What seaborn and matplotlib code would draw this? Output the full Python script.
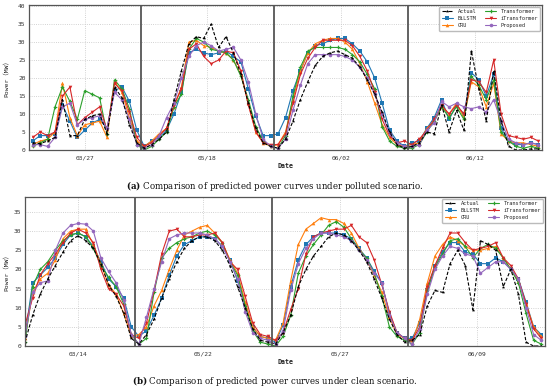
import numpy as np
import pandas as pd
import matplotlib
matplotlib.use('Agg')
import matplotlib.pyplot as plt
from matplotlib.lines import Line2D
import seaborn as sns

models = ['Actual', 'BiLSTM', 'GRU', 'Transformer', 'iTransformer', 'Proposed']
days_a = ['03/27', '05/18', '06/02', '06/12']
days_b = ['03/14', '05/22', '05/27', '06/09']

# (a) polluted scenario, 4 days back to back (15 + 18 + 18 + 18 samples)
a_actual = [2.0, 1.8, 2.5, 3.5, 14.0, 4.0, 4.0, 8.5, 9.5, 10.0, 4.5, 17.5, 14.5, 7.0, 2.0,
            0.5, 1.5, 3.0, 5.0, 14.0, 22.0, 29.5, 31.5, 31.0, 35.0, 28.5, 31.5, 27.0, 21.0, 13.0, 6.0, 2.0, 1.0,
            0.5, 3.0, 8.0, 14.0, 19.0, 23.5, 26.0, 27.0, 27.5, 26.5, 25.5, 23.0, 19.5, 15.5, 10.5, 5.0, 1.5, 0.5,
            1.0, 2.0, 5.0, 4.5, 12.5, 5.0, 11.0, 5.5, 27.5, 17.0, 8.0, 22.0, 8.0, 1.0, 0.0, 0.0, 0.3, 0.3]
a_bilstm = [2.5, 4.0, 4.0, 4.5, 12.5, 8.0, 3.5, 5.5, 7.5, 8.5, 6.0, 16.5, 17.5, 13.5, 5.5,
            1.0, 2.5, 3.5, 5.5, 10.0, 16.0, 27.0, 28.0, 27.0, 26.5, 27.0, 27.5, 26.0, 24.5, 17.0, 9.5, 4.0, 4.0,
            4.5, 9.0, 16.5, 22.0, 27.0, 29.0, 29.5, 30.5, 31.0, 31.0, 29.5, 27.5, 24.5, 20.0, 13.0, 5.5, 2.5, 1.0,
            2.0, 2.5, 6.0, 9.0, 14.0, 8.5, 12.5, 10.0, 21.5, 19.5, 15.0, 21.0, 6.0, 2.5, 1.5, 1.5, 2.0, 1.5]
a_gru = [1.5, 2.5, 3.0, 5.0, 18.5, 9.0, 4.0, 7.0, 7.5, 8.0, 3.5, 19.0, 16.0, 9.0, 2.5,
         1.0, 2.5, 4.5, 6.0, 12.0, 17.5, 30.0, 30.5, 29.0, 28.5, 27.5, 27.0, 25.0, 21.0, 13.0, 5.0, 2.0, 1.0,
         1.5, 5.0, 14.0, 22.0, 27.0, 29.5, 30.5, 31.0, 31.0, 30.0, 28.0, 24.0, 19.0, 13.0, 7.0, 3.5, 1.5, 1.0,
         1.5, 2.0, 6.0, 8.0, 12.0, 10.0, 13.0, 9.0, 19.0, 17.5, 12.0, 18.5, 4.5, 2.5, 2.0, 2.0, 1.5, 1.0]
a_transformer = [1.0, 2.0, 3.0, 12.0, 17.5, 13.5, 8.5, 16.5, 15.5, 14.5, 4.5, 19.5, 17.0, 11.5, 1.5,
                 0.0, 1.0, 3.0, 5.0, 12.0, 15.5, 28.0, 31.0, 30.0, 28.0, 27.5, 27.0, 25.0, 20.5, 14.0, 6.5, 2.5, 1.0,
                 0.5, 4.0, 15.0, 23.0, 27.5, 28.5, 28.5, 28.5, 28.5, 28.0, 26.5, 24.5, 21.0, 17.0, 6.5, 2.5, 1.0, 0.5,
                 0.5, 1.5, 5.0, 8.0, 12.0, 9.0, 12.0, 8.5, 20.5, 18.0, 14.0, 19.5, 5.0, 2.5, 1.0, 0.5, 1.0, 0.5]
a_itransformer = [3.5, 5.0, 4.0, 5.0, 15.0, 17.5, 7.0, 9.0, 10.5, 12.0, 5.5, 18.5, 16.5, 10.5, 3.5,
                  1.0, 2.0, 4.0, 6.0, 12.5, 17.0, 28.0, 29.5, 26.0, 24.0, 25.0, 27.5, 27.0, 22.0, 12.5, 5.0, 2.0, 1.5,
                  1.5, 4.5, 13.0, 21.0, 25.5, 28.5, 30.5, 30.5, 30.5, 30.5, 29.0, 26.0, 22.0, 16.0, 8.5, 4.0, 2.0, 2.5,
                  1.5, 3.0, 5.5, 8.5, 12.5, 10.0, 12.5, 10.0, 19.5, 19.0, 16.0, 25.0, 10.0, 4.0, 3.5, 3.0, 3.5, 2.5]
a_proposed = [1.5, 1.5, 1.0, 3.5, 12.0, 13.0, 7.0, 8.5, 9.0, 9.5, 6.0, 16.0, 14.0, 8.5, 1.5,
              0.5, 1.5, 4.0, 9.0, 13.0, 20.0, 26.0, 29.0, 30.0, 29.0, 27.5, 28.0, 28.5, 25.0, 19.0, 10.0, 3.0, 1.0,
              0.5, 3.0, 11.0, 18.0, 24.0, 26.5, 26.5, 26.5, 26.5, 26.0, 25.0, 23.0, 20.0, 15.5, 10.0, 4.5, 2.0, 1.0,
              1.0, 1.5, 5.5, 7.5, 13.5, 12.0, 13.0, 12.0, 11.5, 12.0, 10.5, 14.0, 8.0, 3.0, 2.0, 1.5, 2.0, 1.5]

# (b) clean scenario
b_actual = [1.0, 8.0, 13.5, 17.5, 21.0, 24.5, 27.5, 28.8, 27.5, 25.5, 21.5, 16.0, 13.0, 8.5, 2.0,
            0.5, 3.0, 7.0, 12.5, 17.5, 22.0, 25.5, 27.5, 28.5, 28.5, 27.5, 25.0, 21.0, 15.5, 10.0, 4.5, 1.5, 1.0,
            0.5, 3.5, 8.0, 15.5, 20.0, 23.5, 26.0, 28.5, 29.5, 29.0, 27.5, 25.0, 22.0, 17.5, 12.5, 7.0, 3.0, 1.0,
            1.5, 3.0, 10.5, 14.5, 14.0, 21.5, 25.0, 21.0, 9.5, 27.5, 26.5, 25.0, 15.5, 20.0, 13.5, 1.0, 0.0, 0.0]
b_bilstm = [2.5, 16.5, 18.5, 20.5, 23.0, 26.5, 29.0, 29.5, 28.5, 26.0, 22.0, 17.5, 15.5, 12.5, 5.0,
            2.5, 4.0, 8.0, 12.5, 18.5, 23.5, 26.5, 27.5, 28.5, 28.5, 28.0, 26.0, 22.5, 17.0, 11.0, 5.0, 2.5, 2.0,
            1.0, 5.5, 15.5, 22.5, 26.5, 28.5, 29.5, 29.5, 29.5, 29.0, 28.0, 25.5, 23.0, 19.5, 16.5, 8.5, 3.5, 2.0,
            2.0, 6.0, 14.5, 21.0, 24.5, 27.0, 27.0, 24.5, 24.0, 21.5, 21.5, 23.0, 22.0, 20.0, 17.5, 11.5, 5.0, 3.0]
b_gru = [2.0, 14.0, 17.5, 19.0, 22.5, 28.0, 30.0, 30.5, 30.5, 26.5, 21.5, 16.0, 13.5, 8.5, 2.5,
         3.0, 5.0, 10.5, 14.5, 20.0, 25.0, 29.0, 30.0, 31.0, 31.5, 29.5, 27.0, 22.5, 19.0, 11.5, 5.0, 2.5, 2.0,
         1.5, 6.0, 17.0, 26.5, 30.5, 32.0, 33.5, 33.0, 33.0, 32.0, 29.5, 25.5, 22.5, 18.5, 14.0, 7.5, 3.0, 2.0,
         1.0, 7.0, 16.5, 23.5, 26.5, 28.5, 27.5, 26.0, 25.0, 25.0, 25.5, 26.0, 23.0, 20.0, 17.0, 11.0, 5.0, 2.5]
b_transformer = [1.0, 15.5, 20.0, 22.0, 25.0, 27.5, 29.0, 29.5, 28.5, 25.5, 21.0, 18.0, 15.5, 11.0, 3.0,
                 0.5, 2.0, 14.0, 23.0, 25.5, 27.0, 28.0, 28.5, 29.5, 30.0, 29.0, 27.0, 22.0, 18.5, 10.5, 4.0, 1.0, 0.5,
                 0.0, 2.5, 8.0, 19.0, 23.5, 26.5, 29.0, 31.5, 32.5, 31.0, 28.0, 25.0, 23.0, 19.0, 13.0, 5.0, 2.5, 1.5,
                 0.5, 3.5, 14.5, 20.5, 24.0, 27.5, 28.0, 26.0, 23.0, 25.5, 26.5, 25.5, 23.0, 20.0, 16.5, 8.5, 1.5, 0.5]
b_itransformer = [5.5, 12.5, 18.5, 21.5, 24.0, 27.0, 29.5, 30.5, 29.5, 27.0, 20.0, 15.0, 13.5, 10.5, 3.0,
                  2.0, 6.0, 14.5, 24.0, 30.0, 30.5, 28.5, 28.5, 29.0, 29.0, 29.5, 27.0, 22.0, 20.0, 13.0, 6.0, 3.0, 2.5,
                  1.5, 3.5, 9.5, 15.0, 24.0, 28.5, 29.5, 30.0, 30.5, 30.5, 31.5, 28.5, 27.0, 22.5, 16.0, 9.0, 3.5, 2.0,
                  1.5, 5.0, 15.5, 21.0, 25.5, 29.5, 29.5, 27.0, 25.0, 25.5, 26.0, 27.0, 23.0, 21.0, 17.5, 11.0, 4.5, 2.0]
b_proposed = [2.5, 14.0, 16.5, 17.0, 25.0, 29.5, 31.5, 32.0, 31.8, 30.0, 23.0, 19.5, 16.5, 12.0, 3.0,
              0.5, 7.5, 15.0, 22.0, 28.0, 29.0, 29.5, 29.5, 29.5, 29.0, 28.0, 26.0, 22.0, 17.5, 9.0, 3.5, 2.0, 1.5,
              0.5, 4.0, 14.5, 21.5, 25.5, 28.0, 29.5, 29.5, 29.0, 28.5, 27.5, 25.0, 22.5, 19.0, 16.5, 8.0, 3.5, 2.0,
              0.5, 4.5, 13.5, 20.0, 23.5, 26.0, 25.5, 24.0, 23.5, 19.0, 20.5, 22.0, 22.0, 20.0, 17.5, 10.0, 3.0, 1.5]

series_a = [a_actual, a_bilstm, a_gru, a_transformer, a_itransformer, a_proposed]
series_b = [b_actual, b_bilstm, b_gru, b_transformer, b_itransformer, b_proposed]

colors = {'Actual': 'black', 'BiLSTM': '#1f77b4', 'GRU': '#ff7f0e',
          'Transformer': '#2ca02c', 'iTransformer': '#d62728', 'Proposed': '#9467bd'}
marks = {'Actual': '*', 'BiLSTM': 's', 'GRU': '^', 'Transformer': 'P',
         'iTransformer': 'v', 'Proposed': 'o'}
dash = {m: '' for m in models}
dash['Actual'] = (3, 1.6)
order = models[1:] + ['Actual']   # actual drawn on top

sns.set_theme(style='white')
plt.rcParams['font.family'] = ['DejaVu Sans Mono', 'Noto Sans CJK SC']
plt.rcParams['mathtext.fontset'] = 'dejavuserif'


def long_df(series):
    frames = []
    for m, vals in zip(models, series):
        frames.append(pd.DataFrame({'t': np.arange(len(vals)), 'power': vals, 'model': m}))
    return pd.concat(frames, ignore_index=True)


def draw(ax, series, days, ymax, ytop, xlim):
    df = long_df(series)
    sns.lineplot(data=df, x='t', y='power', hue='model', style='model',
                 hue_order=order, style_order=order, palette=colors,
                 markers=marks, dashes=dash, linewidth=0.8, markersize=2.6,
                 markeredgewidth=0, legend=False, errorbar=None, ax=ax)
    for b in [14.5, 32.5, 50.5]:
        ax.axvline(b, color='#555555', lw=1.3, zorder=5)
    ax.set_xlim(*xlim)
    ax.set_ylim(0, ymax)
    ax.set_yticks(np.arange(0, ytop + 1, 5))
    ax.set_xticks([7, 23.5, 41.5, 59.5])
    ax.set_xticklabels(days)
    ax.grid(True, ls=':', color='#c4c4c4', lw=0.6)
    ax.tick_params(axis='both', length=0, labelsize=4.5, colors='#333333')
    ax.tick_params(axis='x', pad=4)
    ax.tick_params(axis='y', pad=2.5)
    for s in ax.spines.values():
        s.set_color('#555555')
        s.set_linewidth(0.9)
    ax.set_xlabel('Date', fontsize=4.8, fontweight='bold', color='#222222')
    ax.xaxis.label.set_va('center')
    ax.set_ylabel('Power（MW）', fontsize=4.6, color='#222222')
    handles = [Line2D([], [], color=colors[m], marker=marks[m],
                      ls='--' if m == 'Actual' else '-', lw=0.8, ms=2.6, mew=0)
               for m in models]
    ax.legend(handles, models, ncol=2, loc='upper right', fontsize=3.8,
              frameon=True, borderaxespad=0.3, handlelength=2.2,
              handletextpad=0.8, columnspacing=1.6, labelspacing=0.4,
              borderpad=0.45, fancybox=True, edgecolor='#bbbbbb', framealpha=1)


fig = plt.figure(figsize=(5.5, 3.89), dpi=100)
ax1 = fig.add_axes([29 / 550, 1 - 150 / 389, 513 / 550, 145 / 389])
ax2 = fig.add_axes([25 / 550, 1 - 346 / 389, 520 / 550, 149 / 389])

draw(ax1, series_a, days_a, 40.3, 40, (-0.5, 68.5))
draw(ax2, series_b, days_b, 38.9, 35, (0, 68.5))
ax1.xaxis.set_label_coords(0.5, -0.11)
ax2.xaxis.set_label_coords(0.5, -0.107)
ax1.yaxis.set_label_coords(-0.037, 0.5)
ax2.yaxis.set_label_coords(-0.029, 0.5)

fig.text(0.5, 1 - 186 / 389, r'$\mathbf{(a)}$ Comparison of predicted power curves under polluted scenario.',
         ha='center', va='center', fontsize=6.2, family='DejaVu Serif', color='#111111')
fig.text(0.5, 1 - 381 / 389, r'$\mathbf{(b)}$ Comparison of predicted power curves under clean scenario.',
         ha='center', va='center', fontsize=6.2, family='DejaVu Serif', color='#111111')

fig.savefig('out.png', dpi=100, facecolor='white')
